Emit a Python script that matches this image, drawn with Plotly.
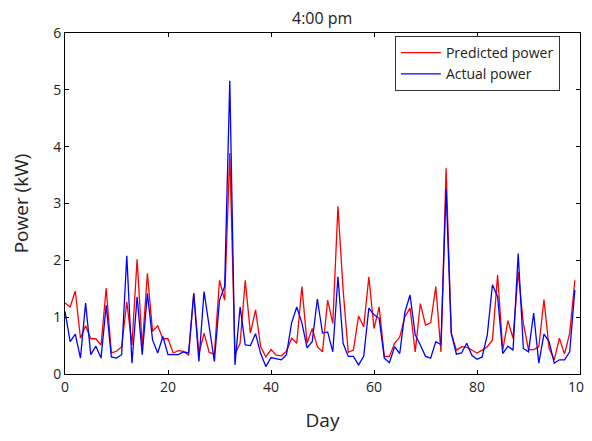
import plotly.graph_objects as go

# Dias (0..99)
days = list(range(100))

# Potencia predicha (kW)
predicted = [
    1.25, 1.18, 1.46, 0.63, 0.85, 0.62, 0.62, 0.51, 1.51, 0.37,
    0.40, 0.48, 1.27, 0.51, 2.02, 0.48, 1.77, 0.75, 0.85, 0.62,
    0.62, 0.37, 0.41, 0.40, 0.33, 1.42, 0.35, 0.72, 0.38, 0.35,
    1.65, 1.30, 3.89, 0.35, 0.54, 1.65, 0.72, 1.13, 0.48, 0.30,
    0.43, 0.33, 0.32, 0.40, 0.63, 0.54, 1.54, 0.54, 0.80, 0.48,
    0.39, 1.30, 0.89, 2.95, 1.48, 0.38, 0.42, 1.02, 0.83, 1.71,
    0.80, 1.18, 0.31, 0.31, 0.54, 0.65, 1.01, 1.16, 0.39, 1.24,
    0.86, 0.90, 1.54, 0.39, 3.62, 0.72, 0.42, 0.48, 0.47, 0.42,
    0.37, 0.42, 0.48, 0.60, 1.74, 0.42, 0.94, 0.63, 1.80, 0.89,
    0.43, 0.43, 0.48, 1.31, 0.45, 0.25, 0.63, 0.35, 0.72, 1.65,
]

# Potencia real (kW)
actual = [
    1.10, 0.57, 0.70, 0.28, 1.25, 0.34, 0.49, 0.28, 1.21, 0.30,
    0.28, 0.34, 2.08, 0.19, 1.36, 0.34, 1.42, 0.60, 0.37, 0.66,
    0.34, 0.34, 0.34, 0.39, 0.37, 1.42, 0.22, 1.45, 0.83, 0.22,
    1.30, 1.54, 5.16, 0.16, 1.18, 0.51, 0.50, 0.71, 0.36, 0.13,
    0.29, 0.27, 0.25, 0.34, 0.90, 1.18, 0.90, 0.46, 0.57, 1.32,
    0.72, 0.74, 0.39, 1.71, 0.54, 0.31, 0.31, 0.16, 0.31, 1.16,
    1.04, 0.98, 0.28, 0.20, 0.48, 0.36, 1.09, 1.39, 0.69, 0.51,
    0.31, 0.28, 0.57, 0.52, 3.25, 0.72, 0.35, 0.37, 0.54, 0.33,
    0.26, 0.30, 0.69, 1.57, 1.36, 0.36, 0.49, 0.42, 2.12, 0.45,
    0.39, 1.07, 0.19, 0.70, 0.57, 0.19, 0.25, 0.25, 0.39, 1.48,
]

fuente = "Open Sans, DejaVu Sans, sans-serif"

fig = go.Figure()

fig.add_trace(go.Scatter(
    x=days, y=predicted, mode="lines", name="Predicted power",
    line=dict(color="#ff0000", width=1.3)
))
fig.add_trace(go.Scatter(
    x=days, y=actual, mode="lines", name="Actual power",
    line=dict(color="#0000ff", width=1.3)
))

ejes = dict(
    showgrid=False, zeroline=False, automargin=False,
    showline=True, linecolor="black", linewidth=1,
    mirror="ticks", ticks="inside", ticklen=4, tickcolor="black",
    tickfont=dict(size=14, color="#222"), ticklabeloverflow="allow",
)

# la pagina tiene 8 px de margen en el body, se descuenta del tamaño
fig.update_layout(
    width=584, height=433,
    margin=dict(l=57, r=12, t=25, b=67, autoexpand=False),
    paper_bgcolor="white", plot_bgcolor="white",
    font=dict(family=fuente, color="#222"),
    title=dict(text="4:00 pm", x=0.538, xanchor="center", y=0.977, yanchor="middle",
               font=dict(size=16)),
    xaxis=dict(range=[0, 100], tickvals=[0, 20, 40, 60, 80, 100],
               title=dict(text="Day", font=dict(size=19), standoff=18), **ejes),
    yaxis=dict(range=[0, 6], tickvals=[0, 1, 2, 3, 4, 5, 6],
               title=dict(text="Power (kW)", font=dict(size=19), standoff=20), **ejes),
    legend=dict(x=0.961, xanchor="right", y=0.991, yanchor="top",
                bordercolor="#333", borderwidth=1, bgcolor="white",
                font=dict(size=14), itemwidth=40,
                tracegroupgap=0),
    showlegend=True,
)

fig.write_html("out.html")
